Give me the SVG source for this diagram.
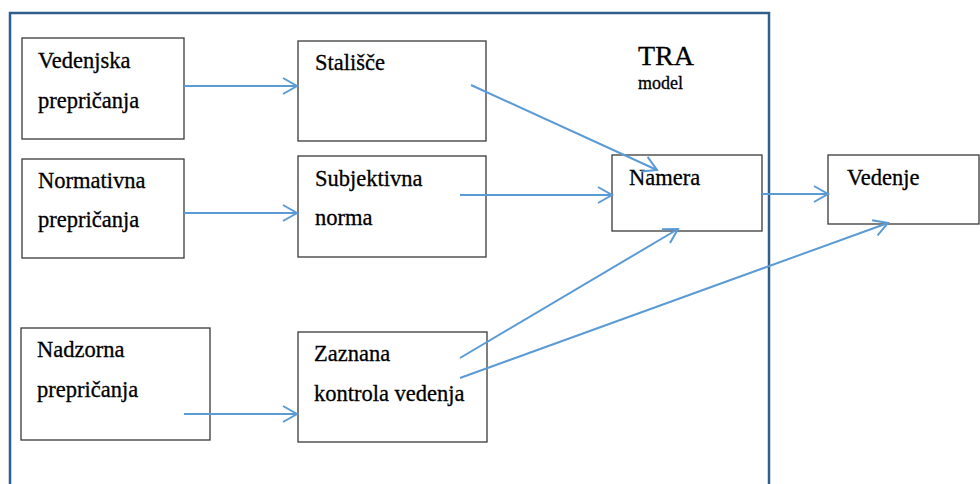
<svg xmlns="http://www.w3.org/2000/svg" width="980" height="484" viewBox="0 0 980 484">
  <style>
    .box { fill: #ffffff; stroke: #3a3a3a; stroke-width: 1.3; }
    .frame { fill: none; stroke: #2f5d8c; stroke-width: 2.5; }
    text { font-family: "Liberation Serif", serif; fill: #000000; stroke: #000000; stroke-width: 0.3; }
    .lbl { font-size: 22.5px; }
    .edge { fill: none; stroke: #5b9bd5; stroke-width: 2; marker-end: url(#chev); }
  </style>
  <defs>
    <marker id="chev" markerUnits="userSpaceOnUse" markerWidth="20" markerHeight="20" viewBox="0 0 20 20" refX="17" refY="10" orient="auto">
      <path d="M3,2 L17,10 L3,18" fill="none" stroke="#5b9bd5" stroke-width="2"/>
    </marker>
  </defs>

  <rect width="980" height="484" fill="#ffffff"/>

  <!-- TRA model frame -->
  <path class="frame" d="M10,490 L10,13 L769,13 L769,490"/>
  <text x="638" y="65" font-size="28">TRA</text>
  <text x="638" y="89" font-size="18">model</text>

  <g id="vedenjska">
    <rect class="box" x="22" y="38" width="162" height="101"/>
    <text class="lbl" x="38" y="68">Vedenjska</text>
    <text class="lbl" x="38" y="108">prepričanja</text>
  </g>
  <g id="normativna">
    <rect class="box" x="22" y="159" width="162" height="99"/>
    <text class="lbl" x="38" y="188">Normativna</text>
    <text class="lbl" x="38" y="227">prepričanja</text>
  </g>
  <g id="nadzorna">
    <rect class="box" x="21" y="328" width="189" height="112"/>
    <text class="lbl" x="37" y="357">Nadzorna</text>
    <text class="lbl" x="37" y="397">prepričanja</text>
  </g>
  <g id="stalisce">
    <rect class="box" x="298" y="41" width="188" height="100"/>
    <text class="lbl" x="315" y="70">Stališče</text>
  </g>
  <g id="subjektivna">
    <rect class="box" x="298" y="156" width="188" height="101"/>
    <text class="lbl" x="315" y="186">Subjektivna</text>
    <text class="lbl" x="315" y="225">norma</text>
  </g>
  <g id="zaznana">
    <rect class="box" x="298" y="332" width="189" height="110"/>
    <text class="lbl" x="314" y="361">Zaznana</text>
    <text class="lbl" x="314" y="401">kontrola vedenja</text>
  </g>
  <g id="namera">
    <rect class="box" x="612" y="155" width="150" height="76"/>
    <text class="lbl" x="629" y="185">Namera</text>
  </g>
  <g id="vedenje">
    <rect class="box" x="828" y="155" width="151" height="69"/>
    <text class="lbl" x="847" y="185">Vedenje</text>
  </g>

  <g id="connectors">
    <line class="edge" x1="184" y1="86" x2="297" y2="86"/>
    <line class="edge" x1="184" y1="213" x2="297" y2="213"/>
    <line class="edge" x1="184" y1="414" x2="297" y2="414"/>
    <line class="edge" x1="471" y1="85" x2="657" y2="170"/>
    <line class="edge" x1="460" y1="195" x2="612" y2="195"/>
    <line class="edge" x1="460" y1="358" x2="678" y2="229"/>
    <line class="edge" x1="460" y1="378" x2="888" y2="223"/>
    <line class="edge" x1="762" y1="194" x2="828" y2="194"/>
  </g>
</svg>
